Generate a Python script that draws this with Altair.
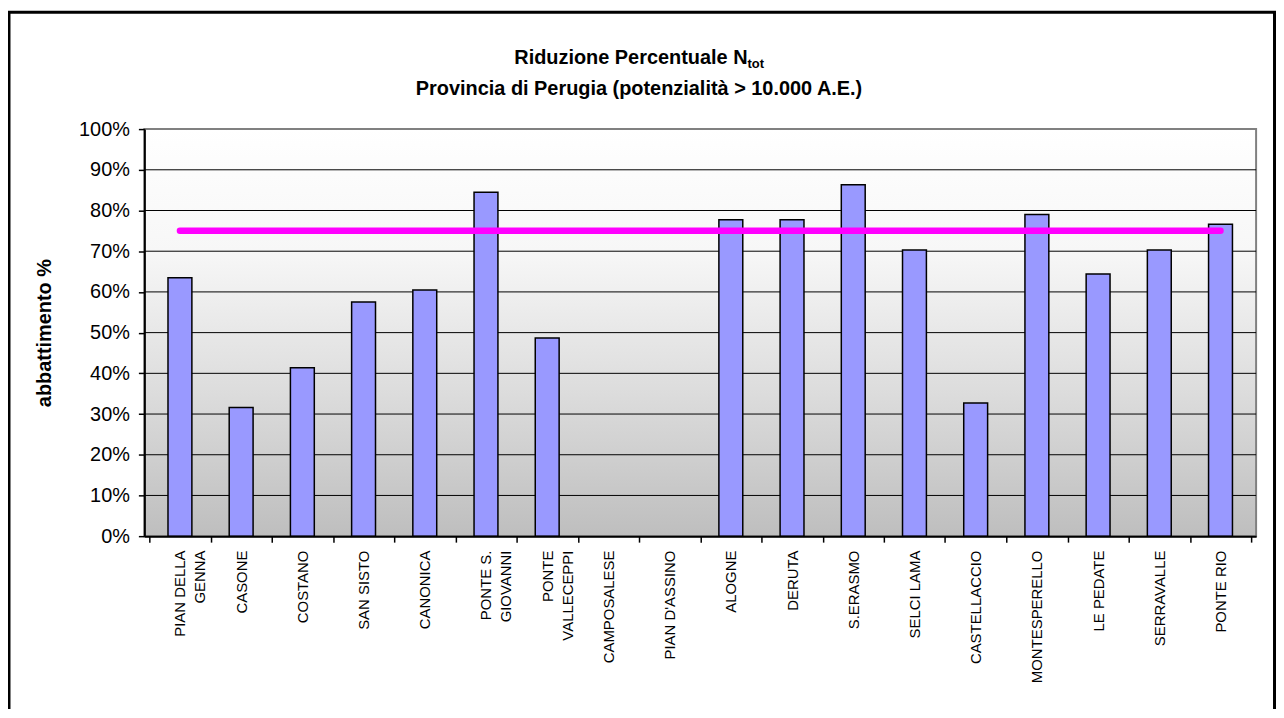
import json
import altair as alt
import pandas as pd

# ---- data ----
CATEGORIES = ["PIAN DELLA|GENNA", "CASONE", "COSTANO", "SAN SISTO", "CANONICA",
              "PONTE S.|GIOVANNI", "PONTE|VALLECEPPI", "CAMPOSALESE", "PIAN D'ASSINO",
              "ALOGNE", "DERUTA", "S.ERASMO", "SELCI LAMA", "CASTELLACCIO",
              "MONTESPERELLO", "LE PEDATE", "SERRAVALLE", "PONTE RIO"]
RIDUZIONE = [63.5, 31.6, 41.4, 57.5, 60.5, 84.5, 48.7, None, None,
             77.7, 77.7, 86.3, 70.3, 32.7, 79.0, 64.4, 70.3, 76.6]
LIMITE = [75, 75, 75, 75, 75, 75, 75, 75, 75, 75, 75, 75, 75, 75, 75, 75, 75, 75]
Y_TICKS = [0, 10, 20, 30, 40, 50, 60, 70, 80, 90, 100]
GRID_LINES = [10, 20, 30, 40, 50, 60, 70, 80, 90]
X_TICKS = [i / 2 for i in range(0, 37)]
TITLE_MAIN = "Riduzione Percentuale N"
TITLE_SUB = "tot"
SUBTITLE = "Provincia di Perugia (potenzialità > 10.000 A.E.)"
Y_TITLE = "abbattimento %"

FONT = "Liberation Sans"
W, H = 1117, 409

bars_df = pd.DataFrame({"cat": CATEGORIES, "value": RIDUZIONE})
line_df = pd.DataFrame({"cat": CATEGORIES, "value": LIMITE})
grid_df = pd.DataFrame({"value": GRID_LINES})

xscale = alt.Scale(domain=[0, len(CATEGORIES)], nice=False, zero=False)
yscale = alt.Scale(domain=[0, 100], nice=False)

label_expr = ("datum.value % 1 === 0 ? '' : split(" + json.dumps(CATEGORIES)
              + "[floor(datum.value)], '|')")

xaxis = alt.Axis(values=X_TICKS, labelExpr=label_expr, labelAngle=-90,
                 labelAlign="right", labelBaseline="middle", labelFont=FONT,
                 labelFontSize=15, labelColor="black", labelLineHeight=20,
                 labelPadding=8, labelOverlap=False, labelBound=False, labelFlush=False,
                 tickOpacity={"condition": {"test": "datum.value % 1 === 0", "value": 1}, "value": 0},
                 tickSize=6, tickWidth=1.5, tickColor="black",
                 domainColor="black", domainWidth=2, grid=False, title=None, zindex=2)

yaxis = alt.Axis(values=Y_TICKS, labelExpr="datum.value + '%'", labelFont=FONT,
                 labelFontSize=20, labelColor="black", labelPadding=9,
                 tickSize=6, tickWidth=1.5, tickColor="black",
                 domainColor="black", domainWidth=2, grid=False,
                 title=Y_TITLE, titleFont=FONT, titleFontSize=20, titleFontWeight="bold",
                 titleColor="black", titleAngle=270, titleX=-100, titleY=H / 2,
                 titleAlign="center", titleBaseline="middle", zindex=2)

one = alt.Data(values=[{}])

background = alt.Chart(one).mark_rect(
    fill={"gradient": "linear", "x1": 0, "y1": 0, "x2": 0, "y2": 1,
          "stops": [{"offset": 0, "color": "#FFFFFF"},
                    {"offset": 0.3, "color": "#F7F7F7"},
                    {"offset": 0.65, "color": "#DCDCDC"},
                    {"offset": 1, "color": "#BEBEBE"}]},
    stroke="#808080", strokeWidth=2
).encode(x=alt.value(0), x2=alt.value(W), y=alt.value(0), y2=alt.value(H))

grid = alt.Chart(grid_df).mark_rule(color="black", strokeWidth=1).encode(
    y=alt.Y("value:Q", scale=yscale, axis=yaxis)
)

bars = alt.Chart(bars_df).transform_window(
    idx="row_number()"
).transform_calculate(
    xc="datum.idx - 0.5"
).mark_bar(size=24, fill="#9999FF", stroke="black", strokeWidth=1.5).encode(
    x=alt.X("xc:Q", scale=xscale, axis=xaxis),
    y=alt.Y("value:Q", scale=yscale, axis=yaxis),
)

line = alt.Chart(line_df).transform_window(
    idx="row_number()"
).transform_calculate(
    xc="datum.idx - 0.5"
).mark_line(color="#FF00FF", strokeWidth=6.5, strokeCap="round", strokeJoin="round").encode(
    x=alt.X("xc:Q", scale=xscale, axis=xaxis),
    y=alt.Y("value:Q", scale=yscale, axis=yaxis),
)

t_main = alt.Chart(alt.Data(values=[{"t": TITLE_MAIN}])).mark_text(
    font=FONT, fontSize=20, fontWeight="bold", align="right", baseline="alphabetic", color="black"
).encode(x=alt.value(606), y=alt.value(-65), text="t:N")

t_sub = alt.Chart(alt.Data(values=[{"t": TITLE_SUB}])).mark_text(
    font=FONT, fontSize=13, fontWeight="bold", align="left", baseline="alphabetic", color="black"
).encode(x=alt.value(606), y=alt.value(-61), text="t:N")

t_line2 = alt.Chart(alt.Data(values=[{"t": SUBTITLE}])).mark_text(
    font=FONT, fontSize=20, fontWeight="bold", align="center", baseline="alphabetic", color="black"
).encode(x=alt.value(497), y=alt.value(-34), text="t:N")

frame = alt.Chart(one).mark_rect(fillOpacity=0, stroke="black", strokeWidth=3).encode(
    x=alt.value(-136), x2=alt.value(1135.5), y=alt.value(-117.5), y2=alt.value(640)
)

chart = alt.layer(background, grid, bars, line, t_main, t_sub, t_line2, frame).properties(
    width=W, height=H,
    autosize=alt.AutoSizeParams(type="none"),
    padding={"left": 137, "top": 120, "right": 20, "bottom": 172},
    background="white",
).configure_view(stroke=None)

chart.save("out.html", embed_options={"renderer": "svg", "actions": False})
